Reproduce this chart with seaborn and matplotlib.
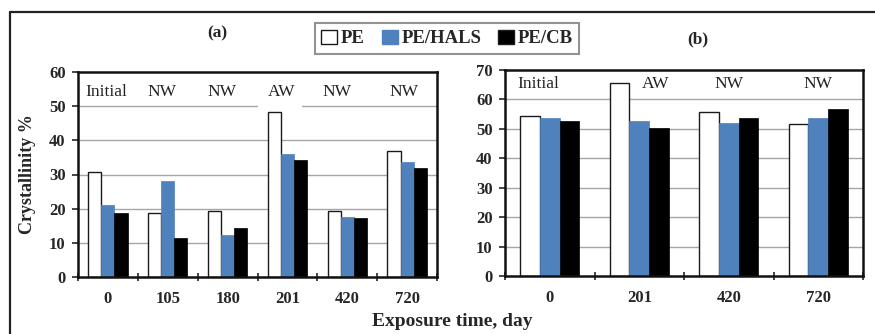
import matplotlib
matplotlib.use("Agg")
import matplotlib.pyplot as plt
import seaborn as sns
import pandas as pd
from matplotlib.patches import Patch, Rectangle
from matplotlib.lines import Line2D

# ---- data -------------------------------------------------------------
materials = ["PE", "PE/HALS", "PE/CB"]

days_a = ["0", "105", "180", "201", "420", "720"]
pe_a = [30.6, 18.6, 19.2, 48.4, 19.4, 36.8]
hals_a = [21.2, 28.2, 12.4, 36.0, 17.5, 33.7]
cb_a = [18.8, 11.5, 14.3, 34.1, 17.3, 32.0]
cond_a = ["Initial", "NW", "NW", "AW", "NW", "NW"]

days_b = ["0", "201", "420", "720"]
pe_b = [54.4, 65.5, 55.6, 51.6]
hals_b = [53.8, 52.8, 51.9, 53.8]
cb_b = [52.8, 50.2, 53.8, 56.6]
cond_b = ["Initial", "AW", "NW", "NW"]

colors = ["#ffffff", "#4f81bd", "#000000"]


def long_table(days, pe, hals, cb):
    rows = []
    for series, vals in zip(materials, [pe, hals, cb]):
        for d, v in zip(days, vals):
            rows.append({"day": d, "material": series, "value": v})
    return pd.DataFrame(rows)


df_a = long_table(days_a, pe_a, hals_a, cb_a)
df_b = long_table(days_b, pe_b, hals_b, cb_b)

# ---- style ------------------------------------------------------------
sns.set_style("white")
plt.rcParams["font.family"] = ["Liberation Serif", "DejaVu Serif"]

W, H = 875, 334
fig = plt.figure(figsize=(W / 100, H / 100), dpi=100)


def px_axes(x0, y0, x1, y1):
    return fig.add_axes([x0 / W, 1 - y1 / H, (x1 - x0) / W, (y1 - y0) / H])


def draw_panel(ax, df, days, ymax, conds, cond_xoff, cond_y):
    sns.barplot(data=df, x="day", y="value", hue="material", order=days,
                hue_order=materials, palette=colors, width=0.66,
                saturation=1, ax=ax, legend=False, zorder=2)
    for i, cont in enumerate(ax.containers):
        for bar in cont:
            if i == 0:
                bar.set_edgecolor("#1a1a1a")
                bar.set_linewidth(1.0)
            else:
                bar.set_edgecolor(colors[i])
                bar.set_linewidth(0.5)
    ax.set_ylim(0, ymax)
    ax.set_xlim(-0.5, len(days) - 0.5)
    ax.set_yticks(range(0, ymax + 1, 10))
    for y in range(10, ymax, 10):
        ax.axhline(y, color="#aaa4a4", lw=1.0, zorder=0.5)
    for s in ax.spines.values():
        s.set_visible(True)
        s.set_color("#111111")
        s.set_linewidth(1.8)
    ax.set_xlabel("")
    ax.set_ylabel("")
    ax.tick_params(axis="x", which="major", length=0, pad=10,
                   labelsize=12)
    ax.set_xticks([i - 0.5 for i in range(len(days) + 1)], minor=True)
    ax.tick_params(axis="x", which="minor", length=6, width=1.2,
                   direction="inout", bottom=True)
    ax.tick_params(axis="y", which="major", length=4, width=1.2,
                   direction="out", left=True, labelsize=12, pad=5)
    for lab in ax.get_xticklabels() + ax.get_yticklabels():
        lab.set_fontweight("bold")
    for i, c in enumerate(conds):
        ax.text(i + cond_xoff[i], cond_y, c, ha="center", va="center",
                fontsize=12.5, color="#222222", zorder=3)


ax_a = px_axes(78, 72, 437, 277)
draw_panel(ax_a, df_a, days_a, 60, cond_a,
           [-0.02, -0.1, -0.1, -0.1, -0.18, -0.05], 54.2)
# blank the 50 % gridline behind the "AW" label
ax_a.add_patch(Rectangle((2.5, 48.8), 0.75, 2.5, facecolor="white",
                         edgecolor="none", zorder=1))

ax_b = px_axes(505, 70, 863, 276)
draw_panel(ax_b, df_b, days_b, 70, cond_b,
           [-0.13, 0.18, 0.0, 0.0], 65.3)

# ---- labels -----------------------------------------------------------
fig.text(28 / W, 1 - 174 / H, "Crystallinity %", rotation=90,
         ha="center", va="center", fontsize=13, fontweight="bold")
fig.text(452 / W, 1 - 321 / H, "Exposure time, day", ha="center",
         va="center", fontsize=14, fontweight="bold")
fig.text(217 / W, 1 - 33 / H, "(a)", ha="center", va="center",
         fontsize=12.5, fontweight="bold")
fig.text(698 / W, 1 - 39 / H, "(b)", ha="center", va="center",
         fontsize=12.5, fontweight="bold")

handles = [Patch(facecolor=c, edgecolor="#1a1a1a" if i != 1 else c,
                 linewidth=1.0, label=m)
           for i, (c, m) in enumerate(zip(colors, materials))]
leg = fig.legend(handles=handles, loc="center", ncol=3,
                 bbox_to_anchor=(447 / W, 1 - 38.5 / H),
                 frameon=True, fancybox=False, handlelength=0.85,
                 handleheight=0.85, handletextpad=0.2, columnspacing=0.9,
                 borderpad=0.35, prop={"size": 13.5, "weight": "bold"})
leg.get_frame().set_edgecolor("#777777")
leg.get_frame().set_linewidth(1.5)

# outer frame
fig.add_artist(Line2D([10 / W, 1.0], [1 - 12 / H, 1 - 12 / H],
                      color="#222222", lw=1.6, transform=fig.transFigure))
fig.add_artist(Line2D([10 / W, 10 / W], [1 - 12 / H, 0.0],
                      color="#222222", lw=1.6, transform=fig.transFigure))

fig.savefig("out.png", dpi=100)
